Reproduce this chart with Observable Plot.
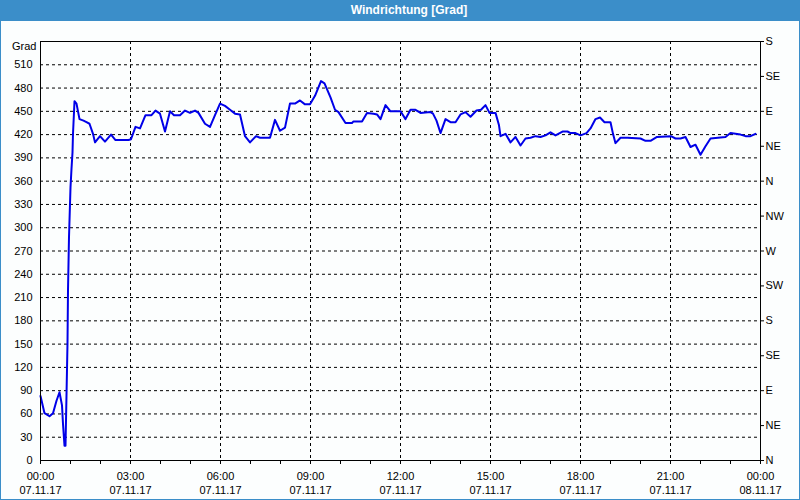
<!DOCTYPE html>
<html>
<head>
<meta charset="utf-8">
<script src="https://cdn.jsdelivr.net/npm/d3@7"></script>
<script src="https://cdn.jsdelivr.net/npm/@observablehq/plot@0.6"></script>
<style>
  html, body { margin: 0; padding: 0; background: #fcfefe; }
  #wrap { position: relative; width: 800px; height: 500px; overflow: hidden; background: #fcfefe; font-family: "Liberation Sans", Arial, sans-serif; }
  #title { position: absolute; left: 0; top: 0; width: 800px; height: 21px; background: #3b8ec9; color: #fff; font-weight: bold; font-size: 12px; line-height: 21px; text-align: center; text-indent: 18px; }
  #chart { position: absolute; left: 0; top: 21px; }
  #frame { position: absolute; left: 0; top: 0; width: 800px; height: 500px; box-sizing: border-box; border: 1px solid #3b8ec9; pointer-events: none; }
</style>
</head>
<body>
<div id="wrap">
  <div id="title">Windrichtung [Grad]</div>
  <div id="chart"></div>
  <div id="frame"></div>
</div>
<script>
// Measurement times (07.11.17, HH:MM) and wind direction in degrees
const times = ["00:00","00:08","00:18","00:25","00:32","00:38","00:43","00:45","00:48","00:50",
  "00:52","00:54","00:55","00:57","01:00","01:02","01:04","01:05","01:08","01:12",
  "01:18","01:26","01:32","01:38","01:45","01:49","01:59","02:09","02:21","02:30",
  "02:56","03:01","03:10","03:19","03:30","03:42","03:50","03:59","04:09","04:19",
  "04:27","04:39","04:49","04:59","05:09","05:16","05:29","05:39","05:49","05:59",
  "06:09","06:19","06:29","06:39","06:49","06:59","07:11","07:19","07:39","07:49",
  "07:59","08:09","08:19","08:29","08:39","08:49","08:59","09:09","09:21","09:28",
  "09:40","09:49","09:56","10:10","10:23","10:26","10:43","10:53","11:06","11:13",
  "11:20","11:30","11:40","12:00","12:10","12:20","12:30","12:40","13:00","13:05",
  "13:12","13:20","13:30","13:40","13:50","14:00","14:10","14:20","14:32","14:41",
  "14:50","14:58","15:10","15:17","15:20","15:30","15:40","15:50","16:00","16:10",
  "16:20","16:30","16:40","16:50","17:00","17:10","17:24","17:34","17:40","17:50",
  "18:00","18:12","18:20","18:30","18:39","18:48","19:00","19:05","19:10","19:20",
  "19:34","20:00","20:10","20:20","20:33","21:01","21:10","21:20","21:30","21:40",
  "21:50","22:00","22:10","22:20","22:50","23:00","23:20","23:30","23:40","23:50"];
const values = [83,61,57,61,77,88,71,47,19,19,
  84,151,219,288,352,376,397,421,463,460,
  440,438,436,434,421,410,418,411,420,413,
  413,414,430,428,445,445,451,447,424,450,
  445,445,451,448,451,448,434,430,445,460,
  457,452,447,446,418,410,418,416,416,439,
  425,429,460,460,464,459,459,470,489,486,
  468,452,449,435,435,437,437,448,447,446,
  440,458,450,450,440,452,452,448,449,447,
  438,422,440,436,436,446,449,443,451,452,
  458,448,448,432,418,421,410,417,406,415,
  416,418,417,419,423,419,424,424,422,422,
  419,422,428,440,442,436,436,421,409,416,
  416,415,412,412,417,418,415,415,417,404,
  407,394,405,415,417,422,420,418,418,421];

const yTicks = d3.range(0, 511, 30);
const compassTicks = [0,45,90,135,180,225,270,315,360,405,450,495,540];
const compassLabels = ["N","NE","E","SE","S","SW","W","NW","N","NE","E","SE","S"];
const dayLabel = "07.11.17";
const nextDayLabel = "08.11.17";

const t0 = Date.UTC(2017, 10, 7, 0, 0);
const toDate = s => { const [h, m] = s.split(":").map(Number); return new Date(t0 + (h * 60 + m) * 60000); };
const data = times.map((s, i) => ({ date: toDate(s), value: values[i] }));

const start = new Date(t0), end = new Date(t0 + 24 * 3600000);
const hourTicks = d3.utcHour.every(1).range(start, d3.utcHour.offset(end, 1));
const labelTicks = d3.utcHour.every(3).range(start, d3.utcHour.offset(end, 1));
const innerX = labelTicks.filter(d => d > start && d < end);
const fmtTime = d3.utcFormat("%H:%M");

const chart = Plot.plot({
  width: 800,
  height: 479,
  marginLeft: 40,
  marginRight: 40,
  marginTop: 20,
  marginBottom: 40,
  style: { fontFamily: "Liberation Sans, Arial, sans-serif", fontSize: "11px", color: "black", background: "transparent" },
  x: { type: "utc", domain: [start, end] },
  y: { domain: [0, 540] },
  marks: [
    Plot.gridY(yTicks.filter(d => d > 0), { stroke: "black", strokeOpacity: 1, strokeDasharray: "3,3" }),
    Plot.gridX(innerX, { stroke: "black", strokeOpacity: 1, strokeDasharray: "3,3" }),
    Plot.axisY(yTicks, { anchor: "left", tickSize: 0, tickPadding: 8, label: null }),
    Plot.axisY([540], { anchor: "left", tickSize: 0, tickPadding: 4, dy: 5, tickFormat: () => "Grad", label: null }),
    Plot.axisY(compassTicks, { anchor: "right", tickSize: 3, tickPadding: 2, label: null,
      tickFormat: d => compassLabels[compassTicks.indexOf(d)] }),
    Plot.axisX(hourTicks, { anchor: "bottom", tickSize: 4, tickFormat: () => "", label: null }),
    Plot.axisX(labelTicks, { anchor: "bottom", tickSize: 4, tickPadding: 6, label: null, lineHeight: 1.27,
      tickFormat: d => fmtTime(d) + "\n" + (d >= end ? nextDayLabel : dayLabel) }),
    Plot.line(data, { x: "date", y: "value", stroke: "#0000e8", strokeWidth: 2, strokeLinejoin: "round" }),
    Plot.frame({ stroke: "black", strokeWidth: 1 })
  ]
});
document.getElementById("chart").appendChild(chart);
</script>
</body>
</html>
